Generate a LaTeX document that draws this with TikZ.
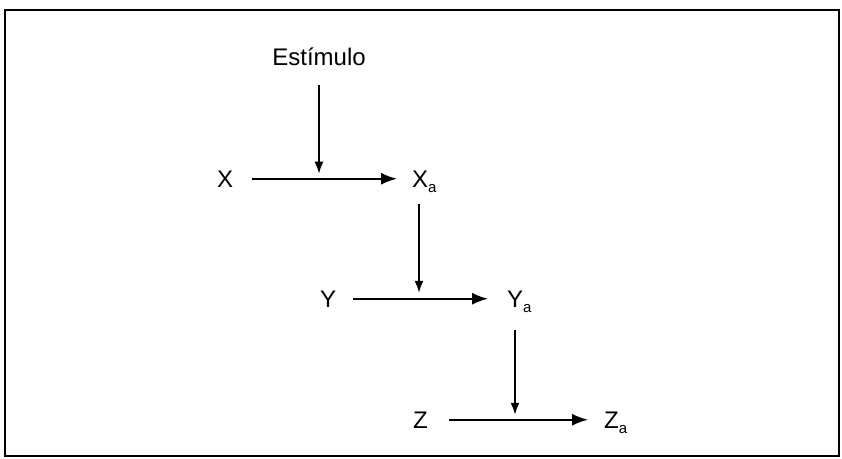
\documentclass[tikz,border=0pt]{standalone}
\usepackage{fontspec}
\setmainfont{Liberation Sans}
\usetikzlibrary{arrows.meta, positioning, calc}
\newcommand{\act}{\raisebox{-0.4ex}{\fontsize{15}{15}\selectfont a}}

\begin{document}
\begin{tikzpicture}[
    x=1pt, y=-1pt,
    state/.style={inner sep=0pt, anchor=base west, font=\fontsize{24}{28}\selectfont},
    flow/.style={-{Latex[length=16pt, width=12pt]}, line width=1.8pt},
    trigger/.style={-{Latex[length=12pt, width=9pt]}, line width=1.6pt}
]
    \useasboundingbox (0,0) rectangle (842,458);
    \draw[line width=1.8pt] (5,10) rectangle (839,456);

    \node[state, anchor=base] (estimulo) at (319,65) {Estímulo};
    \node[state] (x) at (217,187) {X};
    \node[state] (xa) at (412,187) {X\act};
    \node[state] (y) at (320,307) {Y};
    \node[state] (ya) at (507,307) {Y\act};
    \node[state] (z) at (413,428) {Z};
    \node[state] (za) at (604,428) {Z\act};

    % chain X -> Y -> Z
    \draw[flow, shorten <=19pt, shorten >=15pt] (x.east) -- (x.east -| xa.west);
    \draw[flow, shorten <=17pt, shorten >=19pt] (y.east) -- (y.east -| ya.west);
    \draw[flow, shorten <=21pt, shorten >=16pt] (z.east) -- (z.east -| za.west);

    \draw[trigger, shorten <=20pt, shorten >=5pt] (estimulo.south) -- (estimulo.south |- x.center);
    \draw[trigger, shorten <=12pt, shorten >=6pt] ([xshift=7pt]xa.south west) -- ([xshift=7pt]xa.south west |- y.center);
    \draw[trigger, shorten <=18pt, shorten >=5pt] ([xshift=8pt]ya.south west) -- ([xshift=8pt]ya.south west |- z.center);
\end{tikzpicture}
\end{document}
